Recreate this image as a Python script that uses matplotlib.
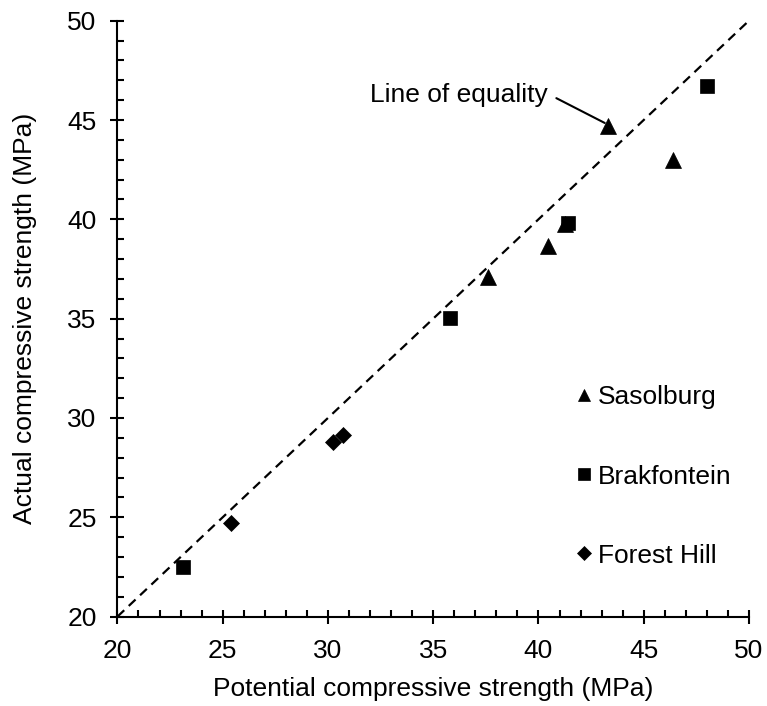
import matplotlib
matplotlib.use("Agg")
import matplotlib.pyplot as plt
from matplotlib.ticker import MultipleLocator

plt.rcParams['font.family'] = ['Liberation Sans', 'DejaVu Sans']

# Data (MPa): potential (x) vs actual (y)
sasolburg_x = [43.3, 46.4, 41.25, 40.45, 37.6]
sasolburg_y = [44.7, 43.0, 39.75, 38.65, 37.1]
brakfontein_x = [48.0, 41.4, 35.8, 23.1]
brakfontein_y = [46.7, 39.8, 35.05, 22.5]
foresthill_x = [25.4, 30.25, 30.7]
foresthill_y = [24.7, 28.8, 29.15]
equality = [20, 50]

FS = 19

fig = plt.figure(figsize=(7.67, 7.06), dpi=100)
ax = fig.add_axes([0.1531, 0.1266, 0.8234, 0.8441])

ax.plot(equality, equality, color='black', lw=1.6, ls=(0, (4.2, 2.8)), zorder=1)

ax.plot(sasolburg_x, sasolburg_y, ls='none', marker='^', ms=11.5, color='black',
        mew=0.5, label='Sasolburg', zorder=3)
ax.plot(brakfontein_x, brakfontein_y, ls='none', marker='s', ms=10.2, color='black',
        mew=0.5, label='Brakfontein', zorder=3)
ax.plot(foresthill_x, foresthill_y, ls='none', marker='D', ms=8.4, color='black',
        mew=0.5, label='Forest Hill', zorder=3)

ax.set_xlim(20, 50)
ax.set_ylim(20, 50)
ax.xaxis.set_major_locator(MultipleLocator(5))
ax.yaxis.set_major_locator(MultipleLocator(5))
ax.xaxis.set_minor_locator(MultipleLocator(1))
ax.yaxis.set_minor_locator(MultipleLocator(1))

for s in ['top', 'right']:
    ax.spines[s].set_visible(False)
for s in ['left', 'bottom']:
    ax.spines[s].set_linewidth(1.5)

ax.tick_params(which='major', direction='inout', length=10, width=1.5,
               labelsize=FS)
ax.tick_params(axis='x', which='major', pad=11)
ax.tick_params(axis='y', which='major', pad=10)
ax.tick_params(which='minor', direction='in', length=5, width=1.5)

ax.set_xlabel('Potential compressive strength (MPa)', fontsize=FS, labelpad=10)
ax.set_ylabel('Actual compressive strength (MPa)', fontsize=FS, labelpad=22)

ax.text(32.0, 45.93, 'Line of equality', fontsize=FS, ha='left', va='baseline')
ax.annotate('', xy=(sasolburg_x[0] - 0.15, sasolburg_y[0] + 0.15), xytext=(40.85, 46.1),
            arrowprops=dict(arrowstyle='-', lw=1.5, color='black',
                            shrinkA=0, shrinkB=0), zorder=2)

leg = ax.legend(loc='upper left', bbox_to_anchor=(0.727, 0.388), frameon=False,
                fontsize=FS, markerscale=0.8, handlelength=0.6, handletextpad=0.2,
                labelspacing=2.09, borderpad=0, borderaxespad=0)

fig.savefig('out.png', dpi=100)
